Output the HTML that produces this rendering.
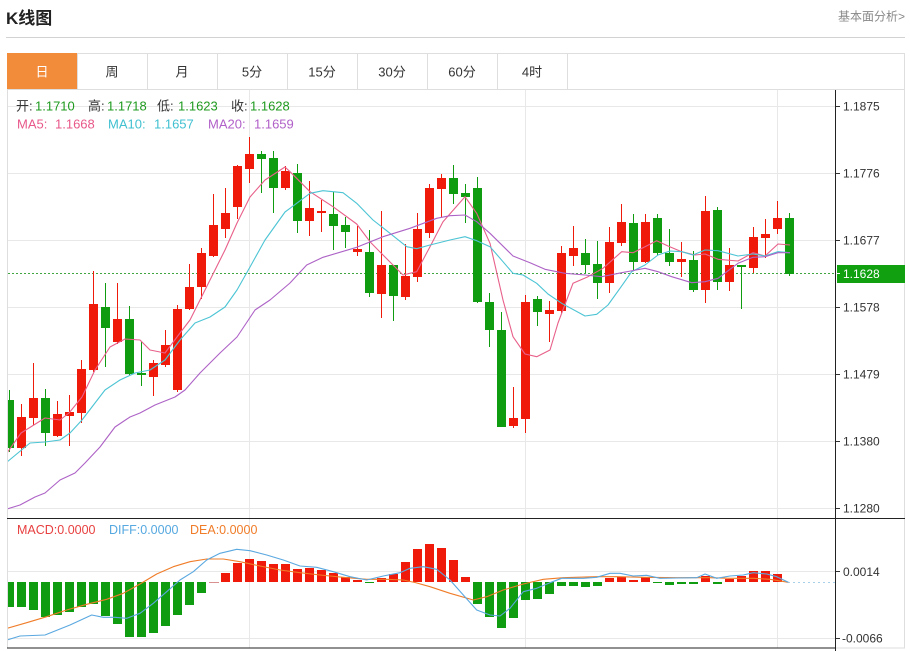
<!DOCTYPE html>
<html><head><meta charset="utf-8"><style>
html,body{margin:0;padding:0;background:#fff;}
body{width:910px;height:651px;overflow:hidden;position:relative;}
svg{position:absolute;left:0;top:0;}
text{font-family:"Liberation Sans","Noto Sans CJK SC",sans-serif;}
</style></head><body>
<svg width="910" height="651" viewBox="0 0 910 651" xmlns="http://www.w3.org/2000/svg">
<defs>
<clipPath id="cm"><rect x="8" y="90" width="827" height="428"/></clipPath>
<clipPath id="cd"><rect x="8" y="519" width="827" height="129"/></clipPath>
</defs>
<!-- header -->
<text x="6" y="24" font-size="17" font-weight="bold" fill="#222">K线图</text>
<text x="905" y="20.5" font-size="12" fill="#888" text-anchor="end">基本面分析&gt;</text>
<line x1="6" y1="37.5" x2="905" y2="37.5" stroke="#d2d2d2"/>
<!-- frame -->
<rect x="7.5" y="53.5" width="897" height="594.5" fill="none" stroke="#dedede"/>
<rect x="7" y="53" width="70" height="36" fill="#f28b3a"/>
<g stroke="#dedede">
<line x1="77.5" y1="53" x2="77.5" y2="89"/><line x1="147.5" y1="53" x2="147.5" y2="89"/>
<line x1="217.5" y1="53" x2="217.5" y2="89"/><line x1="287.5" y1="53" x2="287.5" y2="89"/>
<line x1="357.5" y1="53" x2="357.5" y2="89"/><line x1="427.5" y1="53" x2="427.5" y2="89"/>
<line x1="497.5" y1="53" x2="497.5" y2="89"/><line x1="567.5" y1="53" x2="567.5" y2="89"/>
<line x1="7" y1="89.5" x2="905" y2="89.5"/>
</g>
<g font-size="13" text-anchor="middle" fill="#333">
<text x="42" y="76.5" fill="#fff">日</text>
<text x="112" y="76.5">周</text>
<text x="182" y="76.5">月</text>
<text x="252" y="76.5">5分</text>
<text x="322" y="76.5">15分</text>
<text x="392" y="76.5">30分</text>
<text x="462" y="76.5">60分</text>
<text x="532" y="76.5">4时</text>
</g>
<!-- grid -->
<g stroke="#e8e8e8">
<line x1="8" y1="106.5" x2="835" y2="106.5"/><line x1="8" y1="173.5" x2="835" y2="173.5"/>
<line x1="8" y1="240.5" x2="835" y2="240.5"/><line x1="8" y1="307.5" x2="835" y2="307.5"/>
<line x1="8" y1="374.5" x2="835" y2="374.5"/><line x1="8" y1="441.5" x2="835" y2="441.5"/>
<line x1="8" y1="508.5" x2="835" y2="508.5"/>
<line x1="8" y1="571.5" x2="835" y2="571.5"/><line x1="8" y1="638.5" x2="835" y2="638.5"/>
<line x1="249.5" y1="90" x2="249.5" y2="648"/><line x1="525.5" y1="90" x2="525.5" y2="648"/>
<line x1="777.5" y1="90" x2="777.5" y2="648"/>
</g>
<!-- price line -->
<line x1="8" y1="273.5" x2="835" y2="273.5" stroke="#3fa63f" stroke-dasharray="2,2"/>
<g clip-path="url(#cm)">
<g fill="#f01a0a">
<rect x="21" y="404" width="1" height="52"/><rect x="17" y="417" width="9" height="31"/>
<rect x="33" y="363" width="1" height="62"/><rect x="29" y="398" width="9" height="20"/>
<rect x="57" y="401" width="1" height="36"/><rect x="53" y="414" width="9" height="22"/>
<rect x="69" y="395" width="1" height="51"/><rect x="65" y="412" width="9" height="4"/>
<rect x="81" y="360" width="1" height="63"/><rect x="77" y="369" width="9" height="44"/>
<rect x="93" y="271" width="1" height="101"/><rect x="89" y="304" width="9" height="66"/>
<rect x="117" y="283" width="1" height="61"/><rect x="113" y="319" width="9" height="23"/>
<rect x="153" y="360" width="1" height="36"/><rect x="149" y="363" width="9" height="14"/>
<rect x="165" y="330" width="1" height="37"/><rect x="161" y="345" width="9" height="20"/>
<rect x="177" y="305" width="1" height="87"/><rect x="173" y="309" width="9" height="81"/>
<rect x="189" y="264" width="1" height="46"/><rect x="185" y="287" width="9" height="22"/>
<rect x="201" y="248" width="1" height="51"/><rect x="197" y="253" width="9" height="34"/>
<rect x="213" y="194" width="1" height="63"/><rect x="209" y="225" width="9" height="31"/>
<rect x="225" y="188" width="1" height="50"/><rect x="221" y="213" width="9" height="16"/>
<rect x="237" y="165" width="1" height="54"/><rect x="233" y="166" width="9" height="41"/>
<rect x="249" y="137" width="1" height="46"/><rect x="245" y="154" width="9" height="15"/>
<rect x="285" y="166" width="1" height="24"/><rect x="281" y="171" width="9" height="17"/>
<rect x="309" y="181" width="1" height="55"/><rect x="305" y="208" width="9" height="13"/>
<rect x="321" y="200" width="1" height="32"/><rect x="317" y="211" width="9" height="2"/>
<rect x="357" y="226" width="1" height="30"/><rect x="353" y="249" width="9" height="3"/>
<rect x="381" y="211" width="1" height="107"/><rect x="377" y="265" width="9" height="29"/>
<rect x="405" y="244" width="1" height="56"/><rect x="401" y="276" width="9" height="21"/>
<rect x="417" y="213" width="1" height="69"/><rect x="413" y="229" width="9" height="48"/>
<rect x="429" y="184" width="1" height="54"/><rect x="425" y="188" width="9" height="45"/>
<rect x="441" y="174" width="1" height="43"/><rect x="437" y="178" width="9" height="11"/>
<rect x="513" y="387" width="1" height="41"/><rect x="509" y="418" width="9" height="8"/>
<rect x="525" y="295" width="1" height="138"/><rect x="521" y="302" width="9" height="117"/>
<rect x="549" y="301" width="1" height="41"/><rect x="545" y="310" width="9" height="4"/>
<rect x="561" y="246" width="1" height="67"/><rect x="557" y="253" width="9" height="58"/>
<rect x="573" y="226" width="1" height="40"/><rect x="569" y="248" width="9" height="8"/>
<rect x="609" y="227" width="1" height="66"/><rect x="605" y="242" width="9" height="41"/>
<rect x="621" y="204" width="1" height="42"/><rect x="617" y="222" width="9" height="21"/>
<rect x="645" y="214" width="1" height="49"/><rect x="641" y="222" width="9" height="40"/>
<rect x="681" y="242" width="1" height="35"/><rect x="677" y="259" width="9" height="3"/>
<rect x="705" y="196" width="1" height="107"/><rect x="701" y="211" width="9" height="79"/>
<rect x="729" y="248" width="1" height="43"/><rect x="725" y="265" width="9" height="17"/>
<rect x="753" y="227" width="1" height="46"/><rect x="749" y="237" width="9" height="31"/>
<rect x="765" y="219" width="1" height="39"/><rect x="761" y="234" width="9" height="4"/>
<rect x="777" y="201" width="1" height="33"/><rect x="773" y="218" width="9" height="11"/>
</g>
<g fill="#109c10">
<rect x="9" y="390" width="1" height="62"/><rect x="5" y="400" width="9" height="48"/>
<rect x="45" y="389" width="1" height="57"/><rect x="41" y="398" width="9" height="35"/>
<rect x="105" y="283" width="1" height="84"/><rect x="101" y="307" width="9" height="21"/>
<rect x="129" y="306" width="1" height="69"/><rect x="125" y="319" width="9" height="55"/>
<rect x="141" y="342" width="1" height="44"/><rect x="137" y="373" width="9" height="2"/>
<rect x="261" y="151" width="1" height="42"/><rect x="257" y="154" width="9" height="5"/>
<rect x="273" y="151" width="1" height="62"/><rect x="269" y="158" width="9" height="30"/>
<rect x="297" y="164" width="1" height="69"/><rect x="293" y="173" width="9" height="48"/>
<rect x="333" y="192" width="1" height="58"/><rect x="329" y="214" width="9" height="12"/>
<rect x="345" y="217" width="1" height="31"/><rect x="341" y="225" width="9" height="7"/>
<rect x="369" y="230" width="1" height="67"/><rect x="365" y="252" width="9" height="41"/>
<rect x="393" y="265" width="1" height="56"/><rect x="389" y="265" width="9" height="31"/>
<rect x="453" y="165" width="1" height="39"/><rect x="449" y="178" width="9" height="16"/>
<rect x="465" y="184" width="1" height="39"/><rect x="461" y="193" width="9" height="4"/>
<rect x="477" y="177" width="1" height="126"/><rect x="473" y="188" width="9" height="114"/>
<rect x="489" y="293" width="1" height="54"/><rect x="485" y="302" width="9" height="28"/>
<rect x="501" y="312" width="1" height="115"/><rect x="497" y="330" width="9" height="97"/>
<rect x="537" y="296" width="1" height="30"/><rect x="533" y="299" width="9" height="13"/>
<rect x="585" y="239" width="1" height="34"/><rect x="581" y="253" width="9" height="12"/>
<rect x="597" y="241" width="1" height="58"/><rect x="593" y="264" width="9" height="19"/>
<rect x="633" y="214" width="1" height="56"/><rect x="629" y="223" width="9" height="39"/>
<rect x="657" y="214" width="1" height="41"/><rect x="653" y="218" width="9" height="35"/>
<rect x="669" y="229" width="1" height="37"/><rect x="665" y="253" width="9" height="9"/>
<rect x="693" y="251" width="1" height="41"/><rect x="689" y="260" width="9" height="30"/>
<rect x="717" y="207" width="1" height="83"/><rect x="713" y="210" width="9" height="72"/>
<rect x="741" y="265" width="1" height="44"/><rect x="737" y="265" width="9" height="2"/>
<rect x="789" y="213" width="1" height="63"/><rect x="785" y="218" width="9" height="56"/>
</g>
<g fill="none" stroke-width="1.1" stroke-linejoin="round">
<polyline stroke="#e8608a" points="7,453 21,433 45,418 60,420 69,413 82,397 95,370 110,347 125,339 140,340 150,350 165,353 180,333 190,320 200,300 210,280 225,250 237,223 250,197 265,180 285,167 290,171.7 310,191.7 333,206.7 356.7,224 370,241.7 383,255 403,275 416.7,271.7 430,246.7 443,221.7 465,196.7 476.7,213.3 490,243.3 503,300 513,336.7 525,354 536.7,356.7 550,350 558,323 573,283.3 588,276.7 603,268.3 621.7,251.7 633,252.7 645,246.7 656.7,240.7 668,246 681.7,251.7 695,255 705,254 718,259.3 738,261 753,252.7 765,256 778,244 790,245"/>
<polyline stroke="#4cc4d4" points="7,462 30,443 45,442 60,440 70,433 82,420 95,403 105,390 120,380 135,373 150,370 165,360 180,340 195,323 210,317 225,307 237,290 250,267 265,240 285,212 290,208.3 310,193.3 323,190.7 343,192.7 356.7,203.3 373,220 390,233.3 406.7,246.7 416.7,248.7 430,245 450,240 465,236.7 476.7,240.7 490,246.7 503,261.7 513,273.3 523,275 536.7,283.3 548,294 561.7,303.3 585,316 596.7,314.3 608,305 620,288.3 631.7,271.7 645,265 658,255 670,251 681.7,251.7 693,255 705,250 718,250.7 738,256 753,254 765,256 778,251.7 790,252.7"/>
<polyline stroke="#ad62c6" points="7,509 20,505 35,497 45,493 60,480 75,473 85,463 100,447 115,427 130,417 140,413 155,405 175,397 185,390 200,373 220,353 237,337 255,310 270,300 290,283 306.7,265 323,257.3 356.7,247.3 383,236.7 410,228.3 436.7,218.3 450,215.7 465,215 476.7,221.7 490,233.3 513,256 530,262.7 545,269.3 565,273.3 585,275 601.7,276.7 621.7,272.7 645,268.3 658,271.7 671.7,276.7 691.7,282.7 705,281.7 718,278.3 738,263.3 753,257.3 765,256.7 778,252.7 790,252.7"/>
</g>
</g>
<!-- legend -->
<text x="16" y="110.5" font-size="13" fill="#333">开:<tspan x="35" fill="#1f9a1f">1.1710</tspan><tspan x="88">高:</tspan><tspan x="107" fill="#1f9a1f">1.1718</tspan><tspan x="157">低:</tspan><tspan x="178" fill="#1f9a1f">1.1623</tspan><tspan x="231">收:</tspan><tspan x="250" fill="#1f9a1f">1.1628</tspan></text>
<text x="17" y="128.5" font-size="13" fill="#e8588a">MA5:<tspan x="55">1.1668</tspan><tspan x="108" fill="#40c0d0">MA10:</tspan><tspan x="154" fill="#40c0d0">1.1657</tspan><tspan x="208" fill="#b060c8">MA20:</tspan><tspan x="254" fill="#b060c8">1.1659</tspan></text>
<!-- MACD -->
<g clip-path="url(#cd)">
<g fill="#109c10">
<rect x="5" y="582" width="9" height="25"/><rect x="17" y="582" width="9" height="25"/>
<rect x="29" y="582" width="9" height="28"/><rect x="41" y="582" width="9" height="35"/>
<rect x="53" y="582" width="9" height="33"/><rect x="65" y="582" width="9" height="30"/>
<rect x="77" y="582" width="9" height="25"/><rect x="89" y="582" width="9" height="22"/>
<rect x="101" y="582" width="9" height="34"/><rect x="113" y="582" width="9" height="42"/>
<rect x="125" y="582" width="9" height="55"/><rect x="137" y="582" width="9" height="55"/>
<rect x="149" y="582" width="9" height="51"/><rect x="161" y="582" width="9" height="44"/>
<rect x="173" y="582" width="9" height="33"/><rect x="185" y="582" width="9" height="23"/>
<rect x="197" y="582" width="9" height="11"/><rect x="365" y="582" width="9" height="1"/>
<rect x="473" y="582" width="9" height="22"/><rect x="485" y="582" width="9" height="35"/>
<rect x="497" y="582" width="9" height="46"/><rect x="509" y="582" width="9" height="36"/>
<rect x="521" y="582" width="9" height="18"/><rect x="533" y="582" width="9" height="17"/>
<rect x="545" y="582" width="9" height="12"/><rect x="557" y="582" width="9" height="4"/>
<rect x="569" y="582" width="9" height="4"/><rect x="581" y="582" width="9" height="5"/>
<rect x="593" y="582" width="9" height="4"/><rect x="653" y="582" width="9" height="1"/>
<rect x="665" y="582" width="9" height="3"/><rect x="677" y="582" width="9" height="2"/>
<rect x="689" y="582" width="9" height="2"/><rect x="713" y="582" width="9" height="2"/>
</g>
<g fill="#f01a0a">
<rect x="221" y="573" width="9" height="9"/><rect x="233" y="563" width="9" height="19"/>
<rect x="245" y="559" width="9" height="23"/><rect x="257" y="561" width="9" height="21"/>
<rect x="269" y="564" width="9" height="18"/><rect x="281" y="564" width="9" height="18"/>
<rect x="293" y="569" width="9" height="13"/><rect x="305" y="568" width="9" height="14"/>
<rect x="317" y="570" width="9" height="12"/><rect x="329" y="573" width="9" height="9"/>
<rect x="341" y="577" width="9" height="5"/><rect x="353" y="580" width="9" height="2"/>
<rect x="377" y="578" width="9" height="4"/><rect x="389" y="574" width="9" height="8"/>
<rect x="401" y="562" width="9" height="20"/><rect x="413" y="549" width="9" height="33"/>
<rect x="425" y="544" width="9" height="38"/><rect x="437" y="548" width="9" height="34"/>
<rect x="449" y="560" width="9" height="22"/><rect x="461" y="577" width="9" height="5"/>
<rect x="605" y="578" width="9" height="4"/><rect x="617" y="577" width="9" height="5"/>
<rect x="629" y="580" width="9" height="2"/><rect x="641" y="577" width="9" height="5"/>
<rect x="701" y="576" width="9" height="6"/><rect x="725" y="579" width="9" height="3"/>
<rect x="737" y="576" width="9" height="6"/><rect x="749" y="571" width="9" height="11"/>
<rect x="761" y="571" width="9" height="11"/><rect x="773" y="574" width="9" height="8"/>
</g>
<line x1="209" y1="582.5" x2="219" y2="582.5" stroke="#d89090"/>
<line x1="788" y1="582.5" x2="835" y2="582.5" stroke="#a9d0ea" stroke-dasharray="2,3"/>
<g fill="none" stroke-width="1.1" stroke-linejoin="round">
<polyline stroke="#f07c28" points="7,628.3 26.7,622.7 46.7,616.7 66.7,610 86.7,604.3 106.7,599.3 123.3,593.3 140,584 156.7,574 173.3,566.7 190,561.7 206.7,559 223.3,559 240,561.7 260,566 280,570 300,572.7 320,575 343.3,577.3 366.7,579.3 386.7,579.3 403.3,580 415,582.5 430,586.7 450,593.3 473.3,600 486.7,596.7 503.3,590 523.3,584 543.3,579.3 563.3,577.7 596.7,576.7 616.7,576.7 643.3,577.3 676.7,577.7 710,577.7 730,578.3 753.3,578.3 770,579.3 788.3,582.3"/>
<polyline stroke="#5aa8e0" points="7,640 20,636 45,635 70,625 91.7,615 103.3,617.3 115,617.3 126.7,618.3 140,613.3 153.3,603.3 166.7,591.7 180,580 193.3,571.7 206.7,560 220,553.3 236.7,549.3 250,550.7 266.7,555 283.3,560 300,566 316.7,567.3 333.3,571.7 350,576.7 366.7,580 383.3,576 400,572.7 410,568.3 423.3,566.7 436.7,569.3 450,580 463.3,595 476.7,610 490,615 500,616 510,608.3 523.3,591.7 536.7,588.3 550,582.7 561.7,578.3 583.3,578.3 596.7,577.3 610,573.3 620,573.3 633.3,576 646.7,575.3 660,578.3 676.7,578 696.7,577.7 705,574 716.7,578.3 730,576 743.3,575 753.3,572.7 766.7,574 776.7,576.7 788.3,582.3"/>
</g>
</g>
<text x="17" y="533.8" font-size="12.5" fill="#e84040">MACD:0.0000<tspan x="109" fill="#55a8e0">DIFF:0.0000</tspan><tspan x="190" fill="#f07c28">DEA:0.0000</tspan></text>
<!-- axes -->
<line x1="7" y1="518.5" x2="905" y2="518.5" stroke="#222"/>
<line x1="7" y1="648" x2="836" y2="648" stroke="#222"/>
<line x1="835.5" y1="90" x2="835.5" y2="651" stroke="#222"/>
<rect x="837" y="265" width="68" height="18" fill="#10a010"/>
<g stroke="#333">
<line x1="836" y1="106.5" x2="840" y2="106.5"/><line x1="836" y1="173.5" x2="840" y2="173.5"/>
<line x1="836" y1="240.5" x2="840" y2="240.5"/><line x1="836" y1="307.5" x2="840" y2="307.5"/>
<line x1="836" y1="374.5" x2="840" y2="374.5"/><line x1="836" y1="441.5" x2="840" y2="441.5"/>
<line x1="836" y1="508.5" x2="840" y2="508.5"/><line x1="836" y1="571.5" x2="840" y2="571.5"/>
<line x1="836" y1="638.5" x2="840" y2="638.5"/>
<line x1="836" y1="273.5" x2="840" y2="273.5" stroke="#fff"/>
</g>
<g font-size="12" fill="#333">
<text x="843" y="110.5">1.1875</text>
<text x="843" y="177.5">1.1776</text>
<text x="843" y="244.5">1.1677</text>
<text x="843" y="278" fill="#fff">1.1628</text>
<text x="843" y="311.5">1.1578</text>
<text x="843" y="378.5">1.1479</text>
<text x="843" y="445.5">1.1380</text>
<text x="843" y="512.5">1.1280</text>
<text x="843" y="575.8">0.0014</text>
<text x="842" y="642.5">-0.0066</text>
</g>
</svg>
</body></html>
